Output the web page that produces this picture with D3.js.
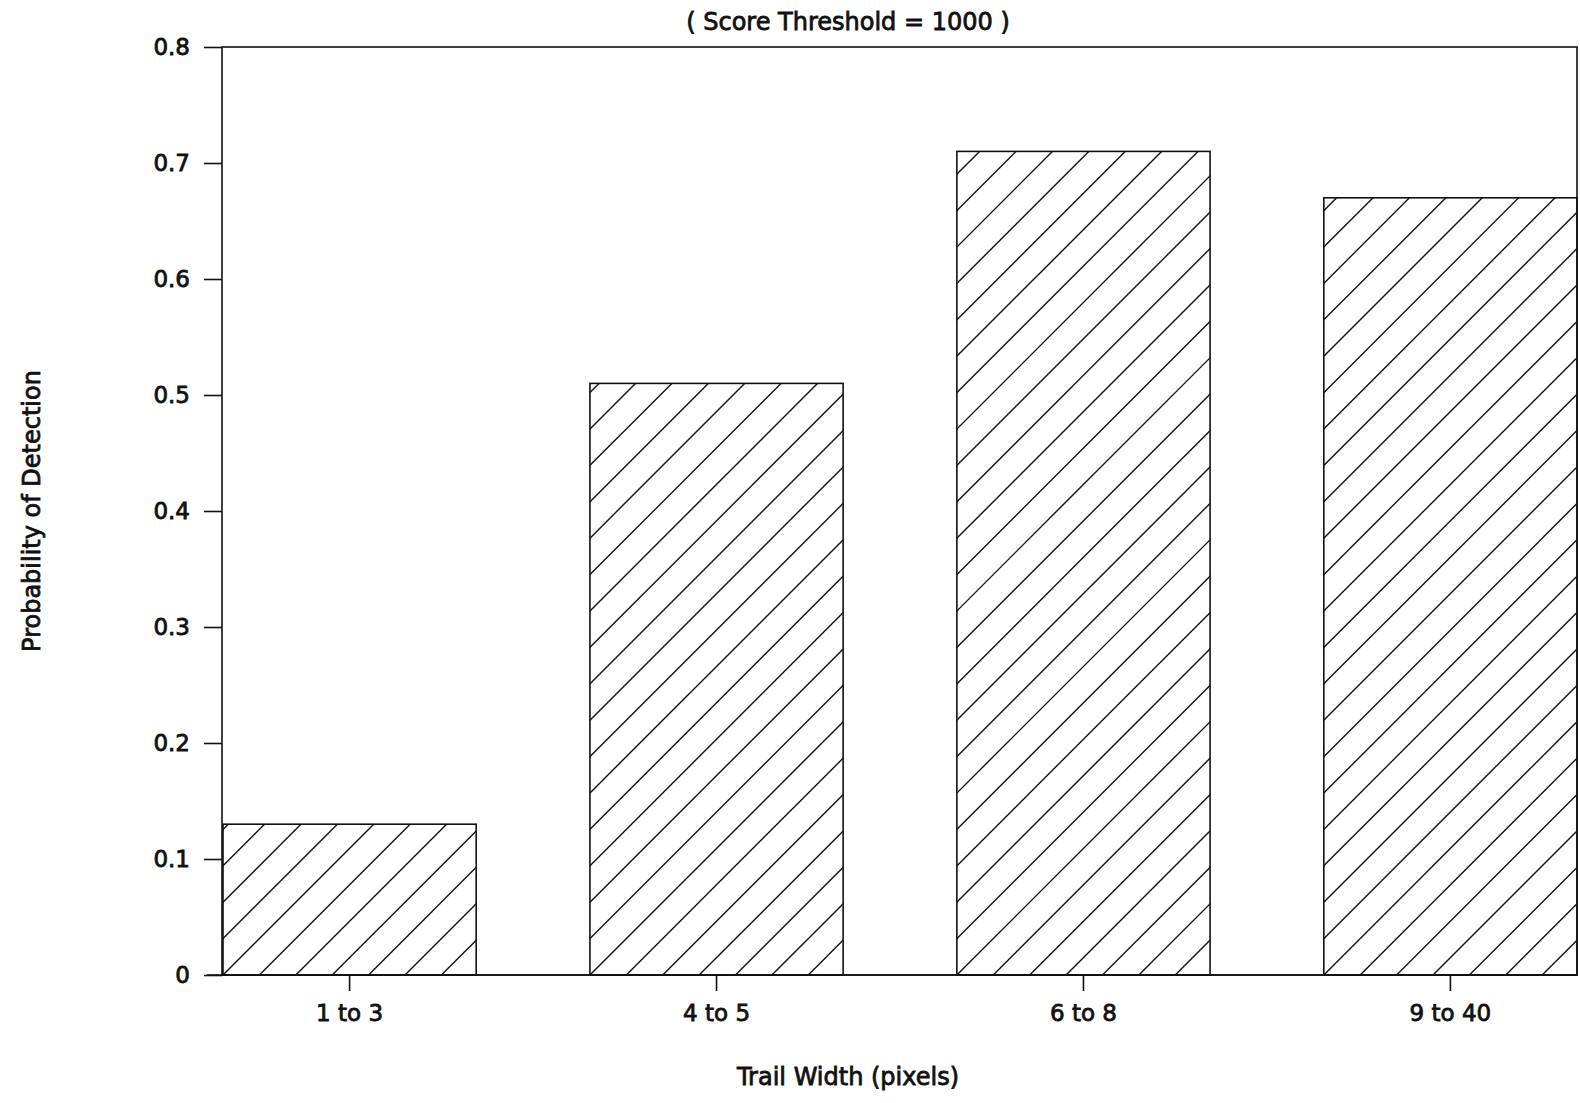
<!DOCTYPE html>
<html>
<head>
<meta charset="utf-8">
<script src="https://cdn.jsdelivr.net/npm/d3@7"></script>
<style>
  html, body { margin: 0; padding: 0; background: #fff; }
  svg { display: block; }
  text { font-family: "DejaVu Sans", "Liberation Sans", Arial, sans-serif; fill: #111; stroke: #111; stroke-width: 0.8px; }
</style>
</head>
<body>
<div id="chart"></div>
<script>
var categories = ['1 to 3', '4 to 5', '6 to 8', '9 to 40'];
var detection = [0.13, 0.51, 0.71, 0.67];
var yTicks = [0, 0.1, 0.2, 0.3, 0.4, 0.5, 0.6, 0.7, 0.8];
var titleText = '( Score Threshold = 1000 )';
var xTitle = 'Trail Width (pixels)';
var yTitle = 'Probability of Detection';

var width = 1580;
var height = 1103;
var frame = { left: 222, right: 1577, top: 47, bottom: 975 };
var hatchGap = 36.4;

var svg = d3.select('#chart')
  .append('svg')
  .attr('width', width)
  .attr('height', height);

var x = d3.scaleBand()
  .domain(categories)
  .range([frame.left + 1, frame.right])
  .paddingInner(0.31)
  .paddingOuter(0);

var y = d3.scaleLinear()
  .domain([0, 0.8])
  .range([frame.bottom, frame.top]);

var defs = svg.append('defs');

// bars with diagonal hatch, clipped to each bar
categories.forEach(function(c, i) {
  var x0 = x(c);
  var bw = x.bandwidth();
  var y0 = y(detection[i]);
  var h = y(0) - y0;

  defs.append('clipPath')
    .attr('id', 'clip-' + i)
    .append('rect')
    .attr('x', x0).attr('y', y0)
    .attr('width', bw).attr('height', h);

  var g = svg.append('g').attr('clip-path', 'url(#clip-' + i + ')');
  var n = Math.ceil((bw + h) / hatchGap) + 1;
  for (var k = -Math.ceil(h / hatchGap) - 1; k <= n; k++) {
    var sx = x0 + k * hatchGap;
    g.append('line')
      .attr('x1', sx).attr('y1', y(0))
      .attr('x2', sx + h + 2).attr('y2', y(0) - h - 2)
      .attr('stroke', '#111')
      .attr('stroke-width', 1.4);
  }

  svg.append('rect')
    .attr('x', x0).attr('y', y0)
    .attr('width', bw).attr('height', h)
    .attr('fill', 'none')
    .attr('stroke', '#111')
    .attr('stroke-width', 1.6);
});

// plot frame
svg.append('rect')
  .attr('x', frame.left).attr('y', frame.top)
  .attr('width', frame.right - frame.left)
  .attr('height', frame.bottom - frame.top)
  .attr('fill', 'none')
  .attr('stroke', '#111')
  .attr('stroke-width', 1.6);

// y axis
var yAxis = svg.append('g')
  .attr('transform', 'translate(' + frame.left + ',0)')
  .call(d3.axisLeft(y).tickValues(yTicks).tickSize(18).tickPadding(14)
    .tickFormat(function(d) { return d === 0 ? '0' : d3.format('.1f')(d); }));
yAxis.select('.domain').remove();
yAxis.selectAll('.tick line').attr('stroke', '#111').attr('stroke-width', 1.6);
yAxis.selectAll('.tick text').attr('font-size', 23);

// x axis
var xAxis = svg.append('g')
  .attr('transform', 'translate(0,' + frame.bottom + ')')
  .call(d3.axisBottom(x).tickSize(16).tickPadding(14));
xAxis.select('.domain').remove();
xAxis.selectAll('.tick line').attr('stroke', '#111').attr('stroke-width', 1.6);
xAxis.selectAll('.tick text').attr('font-size', 23);

// bottom line extends left under the 0 tick
svg.append('line')
  .attr('x1', frame.left - 15).attr('x2', frame.right)
  .attr('y1', y(0)).attr('y2', y(0))
  .attr('stroke', '#111').attr('stroke-width', 1.6);

svg.append('text')
  .attr('x', 848).attr('y', 30)
  .attr('text-anchor', 'middle')
  .attr('font-size', 24)
  .text(titleText);

svg.append('text')
  .attr('x', 848).attr('y', 1085)
  .attr('text-anchor', 'middle')
  .attr('font-size', 24)
  .text(xTitle);

svg.append('text')
  .attr('transform', 'translate(40,' + (frame.top + frame.bottom) / 2 + ') rotate(-90)')
  .attr('text-anchor', 'middle')
  .attr('font-size', 24)
  .text(yTitle);
</script>
</body>
</html>
